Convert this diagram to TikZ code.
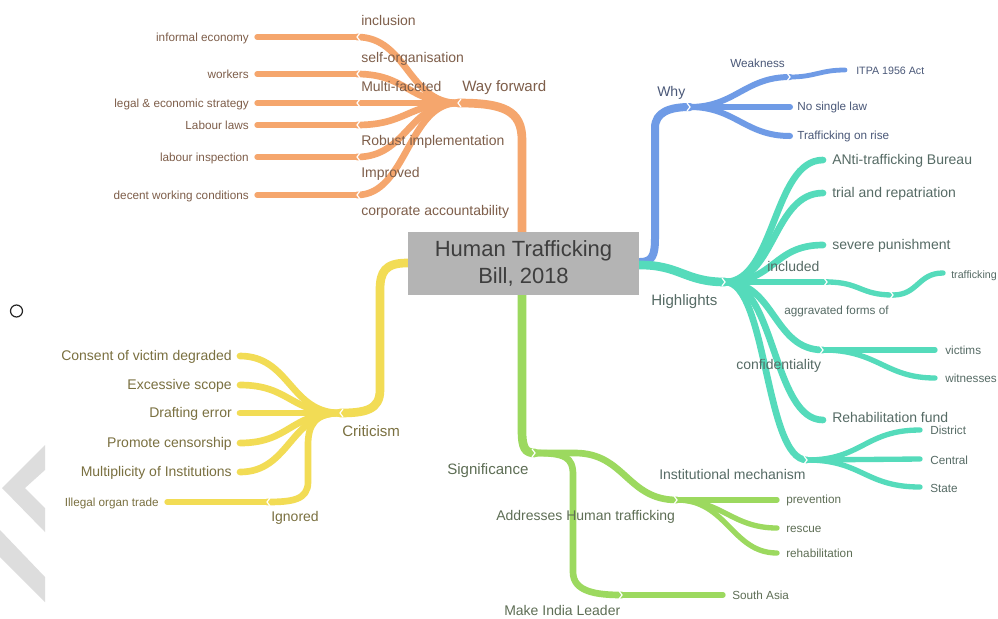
\documentclass[tikz,border=0pt]{standalone}
\usepackage{fontspec}
\setmainfont{Liberation Sans}
\definecolor{cor}{HTML}{F5A66D}
\definecolor{cbl}{HTML}{6F9BE6}
\definecolor{cte}{HTML}{55DBBB}
\definecolor{cye}{HTML}{F2DC55}
\definecolor{cgr}{HTML}{9CD95F}
\definecolor{tor}{HTML}{7E5E4A}
\definecolor{tbl}{HTML}{4A5878}
\definecolor{tte}{HTML}{566B65}
\definecolor{tye}{HTML}{7A7040}
\definecolor{tgr}{HTML}{5E6E55}
\definecolor{boxg}{HTML}{B4B4B4}
\definecolor{ctext}{HTML}{3E3E3E}
\definecolor{wm}{HTML}{DDDDDD}
\begin{document}
\begin{tikzpicture}[x=0.75pt,y=-0.75pt,
  br/.style={line cap=round,line join=round},
  b1/.style={br,line width=6.5pt},
  b2/.style={br,line width=5pt},
  b3/.style={br,line width=4pt},
  lbl/.style={inner sep=0pt,text height=0.72em,text depth=0pt},
  fmain/.style={lbl,font=\fontsize{11.3}{13}\selectfont},
  fmid/.style={lbl,font=\fontsize{10.5}{12}\selectfont},
  fleaf/.style={lbl,font=\fontsize{8.8}{10}\selectfont},
  fsmall/.style={lbl,font=\fontsize{8}{9}\selectfont},
  notchR/.pic={\draw[white,line width=0.9pt] (-3,-4) -- (0,0) -- (-3,4);},
  notchL/.pic={\draw[white,line width=0.9pt] (3,-4) -- (0,0) -- (3,4);}
]
\useasboundingbox (0,0) rectangle (998,618);
\fill[white] (0,0) rectangle (998,618);

% watermark and stray circle
\fill[wm] (45,445) -- (45,470) -- (25,488) -- (45,508) -- (45,532) -- (2,488) -- cycle;
\fill[wm] (0,530) -- (45,577) -- (45,602) -- (0,557) -- cycle;
\draw[line width=0.9pt,black!85] (16.5,311) circle[radius=6];

% ---------------- orange : Way forward ----------------
\coordinate (oS) at (522,240);
\coordinate (oM) at (522,140);
\coordinate (oJ) at (458,103);
\foreach \n/\y in {1/37,2/74,3/103,4/125,5/157,6/195}{
  \coordinate (oE\n) at (357,\y);
  \coordinate (oL\n) at (257,\y);
}
\draw[b1,cor] (oS) -- (oM) .. controls +(0,-30) and +(45,0) .. (oJ);
\foreach \n in {1,...,6}{
  \draw[b2,cor] (oJ) .. controls +(-50,0) and +(50,0) .. (oE\n);
  \draw[b3,cor] (oE\n) -- (oL\n);
}
\pic at (oJ) {notchL};
\foreach \n in {1,...,6}{\pic at (oE\n) {notchL};}

\node[fmain,text=tor,anchor=west] (wf) at (462,87) {Way forward};
\node[fmid,text=tor,anchor=west] (m1) at (361,21) {inclusion};
\node[fmid,text=tor,anchor=west] (m2) at (361,58) {self-organisation};
\node[fmid,text=tor,anchor=west] (m3) at (361,87) {Multi-faceted};
\node[fmid,text=tor,anchor=west] (m4) at (361,141) {Robust implementation};
\node[fmid,text=tor,anchor=west] (m5) at (361,173) {Improved};
\node[fmid,text=tor,anchor=west] (m6) at (361,211) {corporate accountability};
\node[fleaf,text=tor,anchor=east] (l1) at (249,37) {informal economy};
\node[fleaf,text=tor,anchor=east] (l2) at (249,74) {workers};
\node[fleaf,text=tor,anchor=east] (l3) at (249,103) {legal \& economic strategy};
\node[fleaf,text=tor,anchor=east] (l4) at (249,125) {Labour laws};
\node[fleaf,text=tor,anchor=east] (l5) at (249,157) {labour inspection};
\node[fleaf,text=tor,anchor=east] (l6) at (249,195) {decent working conditions};

% ---------------- blue : Why ----------------
\coordinate (bS) at (632,262);
\coordinate (bA) at (655,238);
\coordinate (bB) at (655,128);
\coordinate (bJ) at (690,107);
\coordinate (bW) at (790,77);
\coordinate (bI) at (845,70);
\coordinate (bN) at (790,107);
\coordinate (bT) at (790,136);
\draw[br,line width=6pt,cbl] (bS) -- +(8,0) .. controls +(12,0) and +(0,18) .. (bA) -- (bB) .. controls +(0,-16) and +(-20,0) .. (bJ);
\draw[br,line width=4.5pt,cbl] (bJ) .. controls +(45,0) and +(-45,0) .. (bW);
\draw[br,line width=4.5pt,cbl] (bJ) -- (bN);
\draw[br,line width=4.5pt,cbl] (bJ) .. controls +(45,0) and +(-45,0) .. (bT);
\draw[br,line width=3.6pt,cbl] (bW) .. controls +(25,0) and +(-25,0) .. (bI);
\pic at (bJ) {notchR};
\pic at (bW) {notchR};
\node[fmid,text=tbl,anchor=west] (why) at (657,92) {Why};
\node[fleaf,text=tbl,anchor=west] (wk) at (730,63) {Weakness};
\node[fsmall,text=tbl,anchor=west] (itpa) at (856,70) {ITPA 1956 Act};
\node[fleaf,text=tbl,anchor=west] (nsl) at (797,106) {No single law};
\node[fleaf,text=tbl,anchor=west] (tor2) at (797,135) {Trafficking on rise};

% ---------------- teal : Highlights ----------------
\coordinate (tS) at (632,265);
\coordinate (tJ) at (725,282);
\coordinate (tA) at (823,160);
\coordinate (tB) at (823,193);
\coordinate (tC) at (823,245);
\coordinate (tI) at (827,282);
\coordinate (tK) at (893,295);
\coordinate (tF) at (943,273);
\coordinate (tV) at (823,350);
\coordinate (tV1) at (935,350);
\coordinate (tV2) at (935,378);
\coordinate (tR) at (823,420);
\coordinate (tM) at (807,460);
\coordinate (tM1) at (920,430);
\coordinate (tM2) at (920,459);
\coordinate (tM3) at (920,487);
\draw[b1,cte] (tS) -- +(8,0) .. controls +(40,0) and +(-40,0) .. (tJ);
\foreach \e in {tA,tB,tC,tV,tR}{
  \draw[b2,cte] (tJ) .. controls +(50,0) and +(-50,0) .. (\e);
}
\draw[b2,cte] (tJ) .. controls +(42,0) and +(-42,0) .. (tM);
\draw[b2,cte] (tJ) -- (tI);
\draw[b3,cte] (tI) .. controls +(33,0) and +(-33,0) .. (tK);
\draw[b3,cte] (tK) .. controls +(25,0) and +(-25,0) .. (tF);
\draw[b3,cte] (tV) -- (tV1);
\draw[b3,cte] (tV) .. controls +(55,0) and +(-50,0) .. (tV2);
\draw[b3,cte] (tM) .. controls +(55,0) and +(-55,0) .. (tM1);
\draw[b3,cte] (tM) -- (tM2);
\draw[b3,cte] (tM) .. controls +(55,0) and +(-55,0) .. (tM3);
\foreach \e in {tJ,tI,tK,tV,tM}{\pic at (\e) {notchR};}
\node[fmain,text=tte,anchor=west] (hl) at (651,301) {Highlights};
\node[fmid,text=tte,anchor=west] (atb) at (832,160) {ANti-trafficking Bureau};
\node[fmid,text=tte,anchor=west] (trp) at (832,193) {trial and repatriation};
\node[fmid,text=tte,anchor=west] (svp) at (832,245) {severe punishment};
\node[fmid,text=tte,anchor=west] (inc) at (767,267) {included};
\node[fleaf,text=tte,anchor=west] (agf) at (784,310) {aggravated forms of};
\node[fsmall,text=tte,anchor=west] (trf) at (951,274) {trafficking};
\node[fmid,text=tte,anchor=west] (conf) at (736,365) {confidentiality};
\node[fleaf,text=tte,anchor=west] (vic) at (945,350) {victims};
\node[fleaf,text=tte,anchor=west] (wit) at (945,378) {witnesses};
\node[fmid,text=tte,anchor=west] (rhf) at (832,418) {Rehabilitation fund};
\node[fmid,text=tte,anchor=west] (ism) at (659,475) {Institutional mechanism};
\node[fleaf,text=tte,anchor=west] (dst) at (930,430) {District};
\node[fleaf,text=tte,anchor=west] (cen) at (930,460) {Central};
\node[fleaf,text=tte,anchor=west] (sta) at (930,488) {State};

% ---------------- yellow : Criticism ----------------
\coordinate (yS) at (415,263);
\coordinate (yA) at (380,290);
\coordinate (yB) at (380,390);
\coordinate (yJ) at (340,413);
\foreach \n/\y in {1/356,2/385,3/413,4/443,5/472}{\coordinate (yE\n) at (240,\y);}
\coordinate (yC) at (308,445);
\coordinate (yD) at (308,482);
\coordinate (yG) at (267,502);
\coordinate (yL) at (167,502);
\draw[b1,cye] (yS) -- +(-8,0) .. controls +(-22,0) and +(0,-18) .. (yA) -- (yB) .. controls +(0,20) and +(25,0) .. (yJ);
\foreach \n in {1,...,5}{
  \draw[b2,cye] (yJ) .. controls +(-50,0) and +(50,0) .. (yE\n);
}
\draw[b2,cye] (yJ) .. controls +(-25,0) and +(0,-20) .. (yC) -- (yD) .. controls +(0,18) and +(25,0) .. (yG);
\draw[b3,cye] (yG) -- (yL);
\pic at (yJ) {notchL};
\pic at (yG) {notchL};
\node[fmain,text=tye,anchor=west] (crit) at (342,432) {Criticism};
\node[fmid,text=tye,anchor=east] (y1) at (232,356) {Consent of victim degraded};
\node[fmid,text=tye,anchor=east] (y2) at (232,385) {Excessive scope};
\node[fmid,text=tye,anchor=east] (y3) at (232,413) {Drafting error};
\node[fmid,text=tye,anchor=east] (y4) at (232,443) {Promote censorship};
\node[fmid,text=tye,anchor=east] (y5) at (232,472) {Multiplicity of Institutions};
\node[fmid,text=tye,anchor=west] (ign) at (271,517) {Ignored};
\node[fleaf,text=tye,anchor=east] (iot) at (159,502) {Illegal organ trade};

% ---------------- green : Significance ----------------
\coordinate (gS) at (522,288);
\coordinate (gT) at (522,430);
\coordinate (gJ) at (535,453);
\coordinate (gU) at (575,453);
\coordinate (gA) at (677,500);
\coordinate (gP) at (777,500);
\coordinate (gR) at (777,528);
\coordinate (gH) at (777,553);
\coordinate (gV) at (573,475);
\coordinate (gW) at (573,572);
\coordinate (gM) at (622,595);
\coordinate (gSA) at (723,595);
\draw[b1,cgr] (gS) -- (gT) .. controls +(0,18) and +(-10,0) .. (gJ);
\draw[b2,cgr] (gJ) -- (gU) .. controls +(50,0) and +(-50,0) .. (gA);
\draw[b2,cgr] (gJ) .. controls +(30,0) and +(0,-18) .. (gV) -- (gW) .. controls +(0,20) and +(-25,0) .. (gM);
\draw[b3,cgr] (gA) -- (gP);
\draw[b3,cgr] (gA) .. controls +(45,0) and +(-45,0) .. (gR);
\draw[b3,cgr] (gA) .. controls +(50,0) and +(-45,0) .. (gH);
\draw[b3,cgr] (gM) -- (gSA);
\foreach \e in {gJ,gA,gM}{\pic at (\e) {notchR};}
\node[fmain,text=tgr,anchor=west] (sig) at (447,470) {Significance};
\node[fmid,text=tgr,anchor=west] (ahk) at (496,516) {Addresses Human trafficking};
\node[fleaf,text=tgr,anchor=west] (prv) at (786,499) {prevention};
\node[fleaf,text=tgr,anchor=west] (rsc) at (786,528) {rescue};
\node[fleaf,text=tgr,anchor=west] (rhb) at (786,553) {rehabilitation};
\node[fmid,text=tgr,anchor=west] (mil) at (504,611) {Make India Leader};
\node[fleaf,text=tgr,anchor=west] (sa) at (732,595) {South Asia};

% ---------------- centre ----------------
\node[fill=boxg,inner sep=0pt,minimum width=173.25pt,minimum height=47.25pt,
      align=center,text=ctext,font=\fontsize{16.5}{20.25}\selectfont] (c) at (523.5,263.5)
      {Human Trafficking\\Bill, 2018};
\end{tikzpicture}
\end{document}
